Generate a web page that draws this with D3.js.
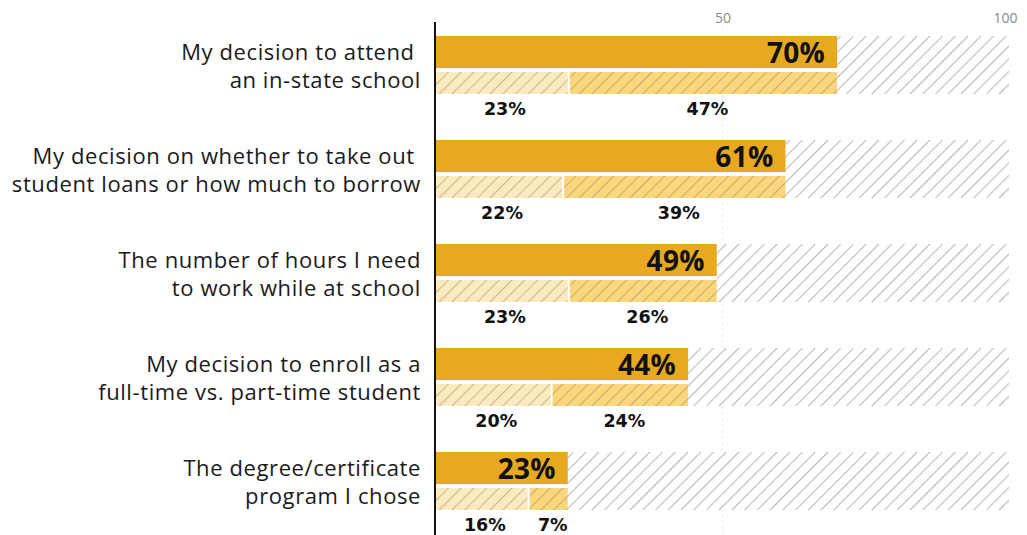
<!DOCTYPE html>
<html><head><meta charset="utf-8">
<script src="https://cdn.jsdelivr.net/npm/d3@7"></script>
<style>
body{margin:0;background:#fff;}
svg{display:block;font-family:"Open Sans","Noto Sans",sans-serif;}
</style></head>
<body><svg id="chart" width="1027" height="535"></svg>
<script>
const categories = [
  ["My decision to attend ", "an in-state school"],
  ["My decision on whether to take out ", "student loans or how much to borrow"],
  ["The number of hours I need", "to work while at school"],
  ["My decision to enroll as a", "full-time vs. part-time student"],
  ["The degree/certificate", "program I chose"]
];
const totals = [70, 61, 49, 44, 23];
const partA = [23, 22, 23, 20, 16];
const partB = [47, 39, 26, 24, 7];
const tickValues = [50, 100];

const svg = d3.select("#chart");
const x = d3.scaleLinear().domain([0, 100]).range([436, 1009]);
const y = d3.scaleBand().domain(d3.range(categories.length)).range([36, 36 + 104 * 5]).paddingInner(0).paddingOuter(0);

const defs = svg.append("defs");
function hatch(id, bg, stroke) {
  const p = defs.append("pattern").attr("id", id).attr("patternUnits", "userSpaceOnUse")
    .attr("width", 9).attr("height", 9).attr("patternTransform", "rotate(45)");
  p.append("rect").attr("width", 9).attr("height", 9).attr("fill", bg);
  p.append("line").attr("x1", 0.5).attr("y1", -1).attr("x2", 0.5).attr("y2", 10)
    .attr("stroke", stroke).attr("stroke-width", 1.1);
}
hatch("hGray", "#ffffff", "#b8b8b8");
hatch("hLight", "#fbeabd", "#c8b994");
hatch("hMid", "#fbd67d", "#c8ac6c");

// gridline at 50
svg.append("line").attr("x1", x(50)).attr("x2", x(50)).attr("y1", 28).attr("y2", 535)
  .attr("stroke", "#ececec").attr("stroke-width", 1).attr("stroke-dasharray", "3,3");

// top axis
const axis = svg.append("g").attr("transform", "translate(0,24)")
  .call(d3.axisTop(x).tickValues(tickValues).tickSize(0).tickPadding(0));
axis.select(".domain").remove();
axis.selectAll("text").attr("fill", "#8a8a8a").attr("font-size", 14)
  .attr("font-family", "'Open Sans','Noto Sans',sans-serif")
  .attr("dy", "-0.1em")
  .attr("text-anchor", d => d === 100 ? "end" : "middle")
  .attr("dx", d => d === 100 ? 8 : 0);

const rows = svg.append("g").selectAll("g").data(categories).join("g")
  .attr("transform", (d, i) => `translate(0,${y(i)})`);

// gray hatched remainder
rows.append("rect").attr("x", (d, i) => x(totals[i])).attr("y", 0)
  .attr("width", (d, i) => x(100) - x(totals[i])).attr("height", 58)
  .attr("fill", "url(#hGray)");

// main bar
rows.append("rect").attr("x", x(0)).attr("y", 0)
  .attr("width", (d, i) => x(totals[i]) - x(0)).attr("height", 32)
  .attr("fill", "#e8a922");

// sub bars
rows.append("rect").attr("x", x(0)).attr("y", 36)
  .attr("width", (d, i) => x(partA[i]) - x(0)).attr("height", 22)
  .attr("fill", "url(#hLight)");
rows.append("rect").attr("x", (d, i) => x(partA[i]) + 2).attr("y", 36)
  .attr("width", (d, i) => x(partA[i] + partB[i]) - x(partA[i]) - 2).attr("height", 22)
  .attr("fill", "url(#hMid)");

// main value labels
rows.append("text").attr("x", (d, i) => x(totals[i]) - 12).attr("y", 27)
  .attr("text-anchor", "end").attr("font-weight", 700).attr("font-size", 28)
  .attr("letter-spacing", 0.3)
  .attr("fill", "#111").text((d, i) => totals[i] + "%");

// sub labels
const subFont = "'DejaVu Sans',sans-serif";
rows.append("text").attr("x", (d, i) => (x(0) + x(partA[i])) / 2 + 3).attr("y", 79)
  .attr("text-anchor", "middle").attr("font-weight", 700).attr("font-size", 17.5)
  .attr("font-family", subFont)
  .attr("fill", "#111").text((d, i) => partA[i] + "%");
rows.append("text").attr("x", (d, i) => (x(partA[i]) + x(partA[i] + partB[i])) / 2 + 5).attr("y", 79)
  .attr("text-anchor", "middle").attr("font-weight", 700).attr("font-size", 17.5)
  .attr("font-family", subFont)
  .attr("fill", "#111").text((d, i) => partB[i] + "%");

// category labels
const lab = rows.append("text").attr("text-anchor", "end").attr("font-size", 22)
  .attr("letter-spacing", 0.6)
  .attr("fill", "#1a1a1a").style("white-space", "pre");
lab.selectAll("tspan").data(d => d).join("tspan")
  .attr("x", 421).attr("y", (d, j) => 24 + j * 28).text(d => d);

// vertical axis line
svg.append("line").attr("x1", 435).attr("x2", 435).attr("y1", 22).attr("y2", 535)
  .attr("stroke", "#111").attr("stroke-width", 2);
</script>
</body></html>
